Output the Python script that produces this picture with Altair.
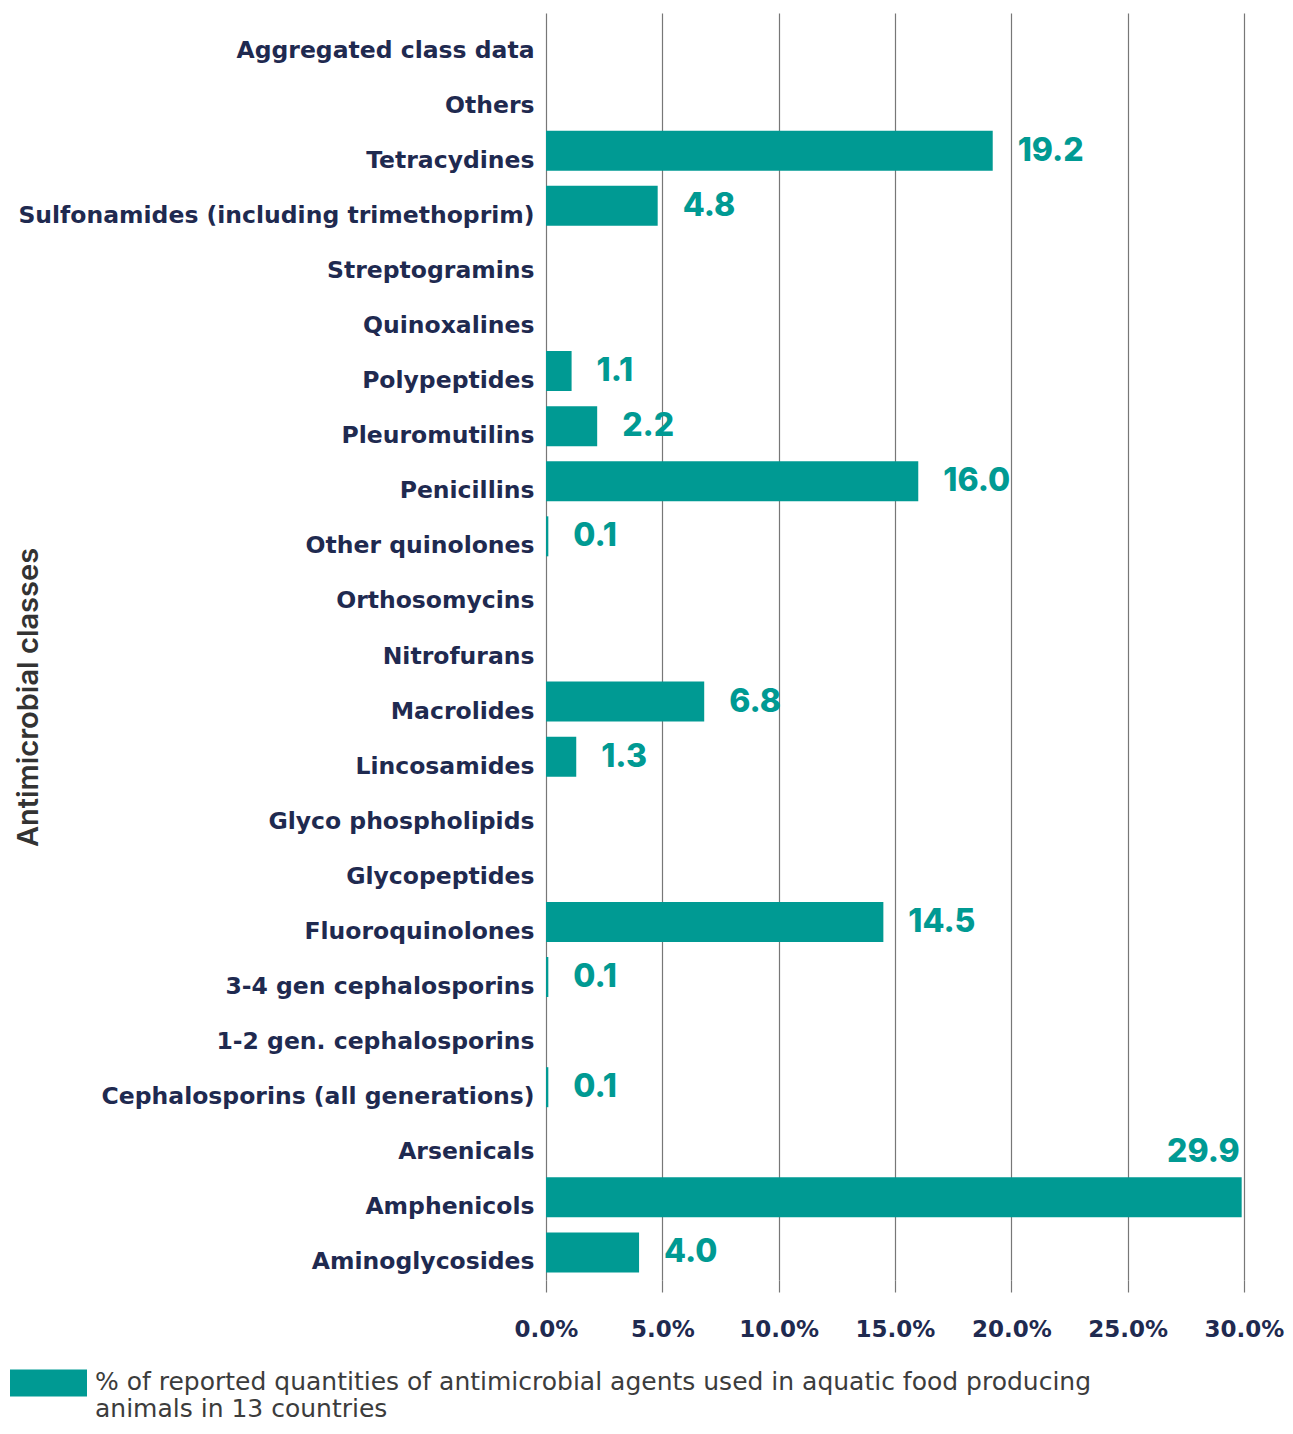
import altair as alt
import pandas as pd

categories = [
    "Aggregated class data", "Others", "Tetracydines",
    "Sulfonamides (including trimethoprim)", "Streptogramins", "Quinoxalines",
    "Polypeptides", "Pleuromutilins", "Penicillins", "Other quinolones",
    "Orthosomycins", "Nitrofurans", "Macrolides", "Lincosamides",
    "Glyco phospholipids", "Glycopeptides", "Fluoroquinolones",
    "3-4 gen cephalosporins", "1-2 gen. cephalosporins",
    "Cephalosporins (all generations)", "Arsenicals", "Amphenicols",
    "Aminoglycosides",
]
values = [
    0.0, 0.0, 19.2,
    4.8, 0.0, 0.0,
    1.1, 2.2, 16.0, 0.1,
    0.0, 0.0, 6.8, 1.3,
    0.0, 0.0, 14.5,
    0.1, 0.0,
    0.1, 0.0, 29.9,
    4.0,
]
x_ticks = [0, 5, 10, 15, 20, 25, 30]
legend_lines = [
    "% of reported quantities of antimicrobial agents used in aquatic food producing",
    "animals in 13 countries",
]
series_name = " ".join(legend_lines)

TEAL = "#009a93"
NAVY = "#1f2a50"

df = pd.DataFrame({"cls": categories, "pct": values, "series": series_name})

cut = len(legend_lines[0])
label_expr = f"[slice(datum.label, 0, {cut}), slice(datum.label, {cut + 1})]"

y_enc = alt.Y(
    "cls:N",
    sort=categories,
    scale=alt.Scale(paddingInner=0.27, paddingOuter=0.135),
    axis=alt.Axis(
        title="Antimicrobial classes",
        titleAngle=-90,
        titleX=-518,
        titleY=684,
        titleAlign="center",
        titleBaseline="middle",
        titleFont="Inter",
        titleFontSize=29,
        titleFontWeight=600,
        titleColor="#333333",
        labelFont="DejaVu Sans",
        labelFontSize=23.5,
        labelFontWeight="bold",
        labelColor=NAVY,
        labelPadding=12,
        labelOffset=10,
        labelLimit=600,
        ticks=False,
        domain=False,
        grid=False,
    ),
)

x_enc = alt.X(
    "pct:Q",
    scale=alt.Scale(domain=[0, 30], nice=False, zero=True),
    axis=alt.Axis(
        title=None,
        values=x_ticks,
        labelExpr="format(datum.value, '.1f') + '%'",
        labelFont="DejaVu Sans",
        labelFontSize=23,
        labelFontWeight="bold",
        labelColor=NAVY,
        labelPadding=26,
        labelFlush=False,
        labelOverlap=False,
        tickSize=12,
        tickColor="#777777",
        tickWidth=1.2,
        grid=True,
        gridColor="#777777",
        gridWidth=1.2,
        domain=False,
    ),
)

bars = alt.Chart(df).mark_bar(size=40).encode(
    x=x_enc,
    y=y_enc,
    color=alt.Color(
        "series:N",
        scale=alt.Scale(domain=[series_name], range=[TEAL]),
        legend=alt.Legend(
            title=None,
            orient="none",
            legendX=-536,
            legendY=1318,
            padding=0,
            symbolType="M-1,0H1V0.7H-1Z",
            symbolSize=5929,
            symbolStrokeWidth=0,
            symbolOpacity=1,
            labelFont="DejaVu Sans",
            labelFontSize=25,
            labelColor="#3c3c3c",
            labelBaseline="top",
            labelOffset=8,
            labelLimit=1250,
            labelExpr=label_expr,
        ),
    ),
)

text_common = dict(font="Inter", fontSize=32, fontWeight=800, color=TEAL)

labels_right = alt.Chart(df).transform_filter(
    "datum.pct > 0 && datum.pct < 25"
).mark_text(align="left", baseline="middle", dx=25, **text_common).encode(
    x="pct:Q",
    y=alt.Y("cls:N", sort=categories),
    text=alt.Text("pct:Q", format=".1f"),
)

labels_top = alt.Chart(df).transform_filter(
    "datum.pct >= 25"
).mark_text(align="right", baseline="middle", dx=-2, dy=-45, **text_common).encode(
    x="pct:Q",
    y=alt.Y("cls:N", sort=categories),
    text=alt.Text("pct:Q", format=".1f"),
)

chart = alt.layer(bars, labels_right, labels_top).properties(
    width=698,
    height=1267,
    autosize=alt.AutoSizeParams(type="none"),
    padding={"left": 538, "top": 5, "right": 41, "bottom": 142},
).configure_view(stroke=None)

chart.save("out.html", embed_options={"renderer": "svg", "actions": False})
